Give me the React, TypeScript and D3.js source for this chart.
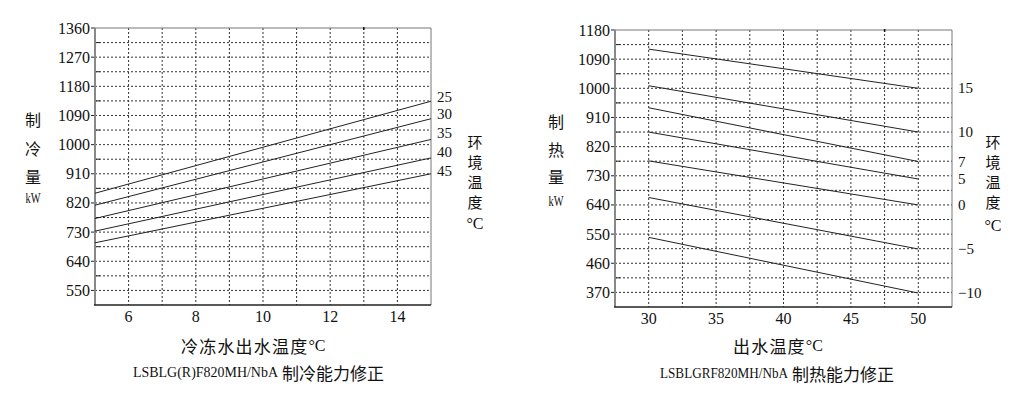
import React from 'react';
import * as d3 from 'd3';

// ---- Cooling chart data ----
const coolX = [5, 15];
const coolTicksX = [6, 8, 10, 12, 14];
const coolTicksY = [550, 640, 730, 820, 910, 1000, 1090, 1180, 1270, 1360];
const coolNames = ['25', '30', '35', '40', '45'];
const cool25 = [850, 1134];
const cool30 = [813, 1080];
const cool35 = [772, 1016];
const cool40 = [733, 959];
const cool45 = [697, 910];

// ---- Heating chart data ----
const heatX = [30, 50];
const heatTicksX = [30, 35, 40, 45, 50];
const heatTicksY = [370, 460, 550, 640, 730, 820, 910, 1000, 1090, 1180];
const heatNames = ['15', '10', '7', '5', '0', '−5', '−10'];
const heat15 = [1121, 1000];
const heat10 = [1008, 865];
const heat7 = [940, 774];
const heat5 = [865, 720];
const heat0 = [776, 640];
const heatM5 = [663, 504];
const heatM10 = [540, 368];

const SERIF = '"Liberation Serif", "DejaVu Serif", serif';
const CJK = '"Noto Sans CJK SC", sans-serif';

type PanelProps = {
  left: number; right: number; top: number; bottom: number;
  xDomain: [number, number]; yDomain: [number, number];
  xTicks: number[]; yTicks: number[];
  xGrid: number[]; yGrid: number[];
  xs: number[]; series: number[][]; names: string[];
  labelX: number; labelDy: number[];
  topMark: number;
};

function Panel(p: PanelProps) {
  const x = d3.scaleLinear().domain(p.xDomain).range([p.left, p.right]);
  const y = d3.scaleLinear().domain(p.yDomain).range([p.bottom, p.top]);
  const line = d3.line<[number, number]>().x(d => x(d[0])).y(d => y(d[1]));
  return (
    <g>
      {p.xGrid.map(v => (
        <line key={'gx' + v} x1={x(v)} x2={x(v)} y1={p.top} y2={p.bottom}
          stroke="#333" strokeWidth={1} strokeDasharray="2,2" />
      ))}
      {p.yGrid.map(v => (
        <line key={'gy' + v} x1={p.left} x2={p.right} y1={y(v)} y2={y(v)}
          stroke="#333" strokeWidth={1} strokeDasharray="2,2" />
      ))}
      {p.yGrid.filter(v => !p.yTicks.includes(v)).map(v => (
        <line key={'mt' + v} x1={p.left} x2={p.left + 5} y1={y(v)} y2={y(v)} stroke="#222" strokeWidth={1} />
      ))}
      {p.yTicks.map(v => (
        <line key={'Mt' + v} x1={p.left - 4} x2={p.left} y1={y(v)} y2={y(v)} stroke="#222" strokeWidth={1} />
      ))}
      <line x1={p.left} x2={p.right} y1={p.top} y2={p.top} stroke="#777" strokeWidth={1} />
      <line x1={p.right} x2={p.right} y1={p.top} y2={p.bottom} stroke="#777" strokeWidth={1} />
      <line x1={p.left} x2={p.left} y1={p.top} y2={p.bottom} stroke="#888" strokeWidth={2} />
      <line x1={p.left - 1} x2={p.right} y1={p.bottom} y2={p.bottom} stroke="#222" strokeWidth={1.5} />
      <line x1={x(p.topMark)} x2={x(p.topMark)} y1={p.top - 1} y2={p.top + 2} stroke="#111" strokeWidth={1.5} />
      {p.series.map((s, i) => (
        <path key={'s' + i} d={line(p.xs.map((xv, j) => [xv, s[j]] as [number, number])) || ''}
          fill="none" stroke="#222" strokeWidth={1} />
      ))}
      {p.series.map((s, i) => (
        <text key={'n' + i} x={p.labelX} y={y(s[s.length - 1]) + p.labelDy[i]}
          dominantBaseline="central" fontFamily={SERIF} fontSize={15} fill="#111">{p.names[i]}</text>
      ))}
      {p.yTicks.map(v => (
        <text key={'yl' + v} x={p.left - 5} y={y(v)} textAnchor="end" dominantBaseline="central"
          fontFamily={SERIF} fontSize={16} fill="#111">{v}</text>
      ))}
      {p.xTicks.map(v => (
        <text key={'xl' + v} x={x(v)} y={p.bottom + 11} textAnchor="middle" dominantBaseline="central"
          fontFamily={SERIF} fontSize={16} fill="#111">{v}</text>
      ))}
    </g>
  );
}

function VText({ x, y, text, size, spacing }: { x: number; y: number; text: string; size: number; spacing: number }) {
  return (
    <text x={x} y={y} fontFamily={CJK} fontSize={size} fill="#111"
      style={{ writingMode: 'vertical-rl' as any }} letterSpacing={spacing} dominantBaseline="central">{text}</text>
  );
}

export default function App() {
  return (
    <svg width={1026} height={397} style={{ position: 'absolute', left: 0, top: 0, background: '#fff' }}>
      <rect width={1026} height={397} fill="#fff" />
      <Panel left={95} right={431} top={28} bottom={305}
        xDomain={[5, 15]} yDomain={[505, 1360]}
        xTicks={coolTicksX} yTicks={coolTicksY}
        xGrid={d3.range(6, 15, 1)} yGrid={d3.range(550, 1360, 45)}
        xs={coolX} series={[cool25, cool30, cool35, cool40, cool45]} names={coolNames}
        labelX={437} labelDy={[-4, -5, -6, -6, -3]} topMark={13} />
      <Panel left={615} right={952} top={30} bottom={307}
        xDomain={[27.5, 52.5]} yDomain={[325, 1180]}
        xTicks={heatTicksX} yTicks={heatTicksY}
        xGrid={d3.range(30, 51, 2.5)} yGrid={d3.range(370, 1180, 45)}
        xs={heatX} series={[heat15, heat10, heat7, heat5, heat0, heatM5, heatM10]} names={heatNames}
        labelX={958} labelDy={[0, 0, 0, 0, 0, 0, 0]} topMark={47.5} />

      {/* left chart labels */}
      <VText x={33} y={112} text="制冷量" size={16} spacing={12.5} />
      <text x={33} y={198} textAnchor="middle" dominantBaseline="central" fontFamily={SERIF} fontSize={14}
        textLength={15} lengthAdjust="spacingAndGlyphs" fill="#111">kW</text>
      <VText x={475} y={134.5} text="环境温度" size={15} spacing={5} />
      <text x={475} y={223} textAnchor="middle" dominantBaseline="central" fontFamily={SERIF} fontSize={16} fill="#111">°C</text>
      <text x={181} y={345} dominantBaseline="central" fontSize={17} fill="#111">
        <tspan fontFamily={CJK} letterSpacing={1.2}>冷冻水出水温度</tspan>
        <tspan fontFamily={SERIF} fontSize={16}>°C</tspan>
      </text>
      <text x={133} y={372} dominantBaseline="central" fontFamily={SERIF} fontSize={15}
        textLength={145} lengthAdjust="spacingAndGlyphs" fill="#111">LSBLG(R)F820MH/NbA</text>
      <text x={282} y={372} dominantBaseline="central" fontFamily={CJK} fontSize={17} fill="#111">制冷能力修正</text>

      {/* right chart labels */}
      <VText x={556} y={114} text="制热量" size={16} spacing={11.5} />
      <text x={556} y={201} textAnchor="middle" dominantBaseline="central" fontFamily={SERIF} fontSize={14}
        textLength={15} lengthAdjust="spacingAndGlyphs" fill="#111">kW</text>
      <VText x={993} y={134.5} text="环境温度" size={15} spacing={5} />
      <text x={993} y={225} textAnchor="middle" dominantBaseline="central" fontFamily={SERIF} fontSize={16} fill="#111">°C</text>
      <text x={733} y={345} dominantBaseline="central" fontSize={17} fill="#111">
        <tspan fontFamily={CJK} letterSpacing={1.2}>出水温度</tspan>
        <tspan fontFamily={SERIF} fontSize={16}>°C</tspan>
      </text>
      <text x={660} y={373} dominantBaseline="central" fontFamily={SERIF} fontSize={15}
        textLength={128} lengthAdjust="spacingAndGlyphs" fill="#111">LSBLGRF820MH/NbA</text>
      <text x={792} y={373} dominantBaseline="central" fontFamily={CJK} fontSize={17} fill="#111">制热能力修正</text>
    </svg>
  );
}
